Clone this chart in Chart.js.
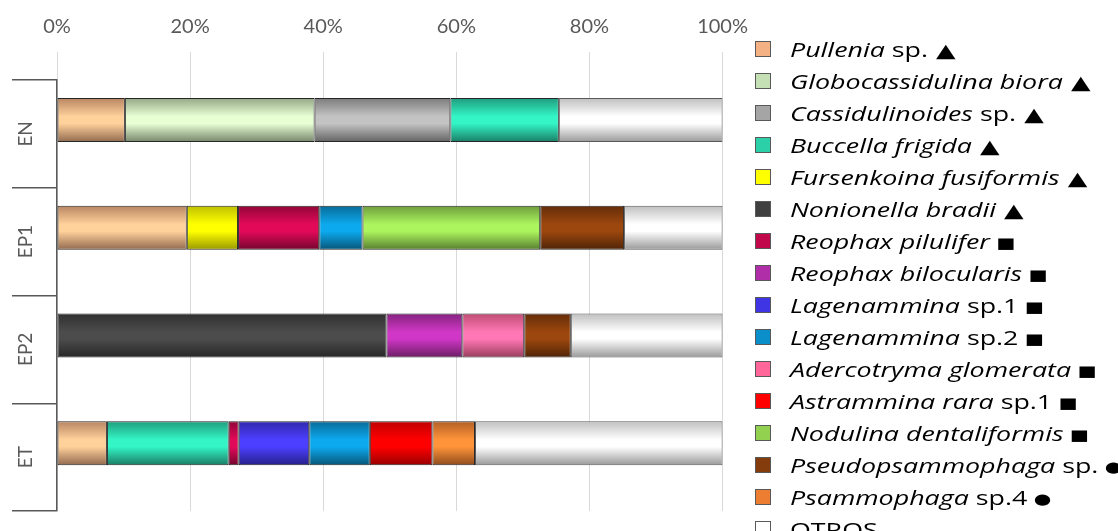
<!DOCTYPE html>
<html>
<head>
<meta charset="utf-8">
<script src="https://cdn.jsdelivr.net/npm/chart.js@4"></script>
<style>
  html, body { margin: 0; padding: 0; background: #fff; overflow: hidden; }
  body { width: 1118px; height: 531px; position: relative; font-family: Lato, sans-serif; }
  #chartBox { position: absolute; left: 0; top: 0; width: 761px; height: 531px; }
  #legend { position: absolute; left: 755px; top: 33px; margin: 0; padding: 0; list-style: none; }
  #legend li { height: 32px; display: flex; align-items: center; white-space: nowrap; color: #000; }
  #legend .box { width: 16px; height: 16px; box-sizing: border-box; border: 1px solid #595959; margin-right: 19px; flex: none; }
  #legend .txt { display: inline-block; font-family: "Open Sans", sans-serif; font-size: 20px; transform: scaleX(1.34); transform-origin: left center; }
  #legend .tri { font-family: "DejaVu Sans"; font-size: 19px; }
  #legend .sq, #legend .dot { font-family: "DejaVu Sans"; font-size: 15px; position: relative; top: -1px; }
</style>
</head>
<body>
<div id="chartBox"><canvas id="foramChart"></canvas></div>
<ul id="legend"></ul>
<script>
// estaciones (categorias)
const sites = ['EN', 'EP1', 'EP2', 'ET'];

// abundancia relativa (%) por especie y estacion
const pullenia         = [10.2, 19.5, null, 7.5];
const globocassidulina = [28.5, null, null, null];
const cassidulinoides  = [20.4, null, null, null];
const buccella         = [16.3, null, null, 18.3];
const fursenkoina      = [null, 7.7, null, null];
const nonionella       = [null, null, 49.5, null];
const reophaxPilulifer = [null, 12.2, null, 1.5];
const reophaxBilocul   = [null, null, 11.4, null];
const lagenammina1     = [null, null, null, 10.6];
const lagenammina2     = [null, 6.5, null, 9.1];
const adercotryma      = [null, null, 9.3, null];
const astrammina       = [null, null, null, 9.4];
const nodulina         = [null, 26.7, null, null];
const pseudopsammophaga= [null, 12.6, 7.0, null];
const psammophaga      = [null, null, null, 6.4];
const otros            = [24.6, 14.8, 22.8, 37.2];

const seriesValues = [pullenia, globocassidulina, cassidulinoides, buccella, fursenkoina,
  nonionella, reophaxPilulifer, reophaxBilocul, lagenammina1, lagenammina2, adercotryma,
  astrammina, nodulina, pseudopsammophaga, psammophaga, otros];

// nombres: parte en cursiva, parte normal, simbolo
const speciesItalic = ['Pullenia', 'Globocassidulina biora', 'Cassidulinoides', 'Buccella frigida',
  'Fursenkoina fusiformis', 'Nonionella bradii', 'Reophax pilulifer', 'Reophax bilocularis',
  'Lagenammina', 'Lagenammina', 'Adercotryma glomerata', 'Astrammina rara', 'Nodulina dentaliformis',
  'Pseudopsammophaga', 'Psammophaga', ''];
const speciesPlain = ['sp.', '', 'sp.', '', '', '', '', '', 'sp.1', 'sp.2', '', 'sp.1', '', 'sp.', 'sp.4', 'OTROS'];
const speciesMark = ['▲', '▲', '▲', '▲', '▲', '▲', '■', '■', '■', '■', '■', '■', '■', '●', '●', ''];

const speciesColors = ['#F4B183', '#C5E0B4', '#A5A5A5', '#2BD0A8', '#FFFF00', '#404040',
  '#C0084B', '#B02FA8', '#4035E5', '#0B8FCA', '#FF6699', '#FF0000', '#92D050', '#843C0C',
  '#ED7D31', '#FFFFFF'];

const xTicks = [0, 20, 40, 60, 80, 100];

// barras desplazadas hacia arriba dentro de cada categoria (como en el original)
const CAT_PCT = 0.516;
const BAR_PCT = 1.583;

function scaleColor(hex, f) {
  const n = parseInt(hex.slice(1), 16);
  const r = Math.min(255, Math.round(((n >> 16) & 255) * f));
  const g = Math.min(255, Math.round(((n >> 8) & 255) * f));
  const b = Math.min(255, Math.round((n & 255) * f));
  return `rgb(${r}, ${g}, ${b})`;
}

// relleno degradado tipo Excel
function barFill(ctx) {
  const base = speciesColors[ctx.datasetIndex];
  const yScale = ctx.chart.scales && ctx.chart.scales.y;
  if (!yScale || ctx.type !== 'data') return base;
  const p0 = yScale.getPixelForValue(0);
  const p1 = yScale.getPixelForValue(1);
  const pix = yScale.getPixelForValue(ctx.dataIndex);
  if (!isFinite(p0) || !isFinite(p1) || !isFinite(pix)) return base;
  const size = Math.abs(p1 - p0) * CAT_PCT;
  const chunk = size / 2;
  const c = pix - size / 2 + chunk / 2;
  const h = chunk * BAR_PCT;
  const g = ctx.chart.ctx.createLinearGradient(0, c - h / 2, 0, c + h / 2);
  g.addColorStop(0, scaleColor(base, 0.75));
  g.addColorStop(0.42, scaleColor(base, 1.18));
  g.addColorStop(0.58, scaleColor(base, 1.18));
  g.addColorStop(1, scaleColor(base, 0.6));
  return g;
}

const datasets = seriesValues.map((vals, i) => ({
  label: (speciesItalic[i] + ' ' + speciesPlain[i]).trim(),
  data: vals,
  stack: 'muestra',
  backgroundColor: barFill,
  borderColor: i === 15 ? '#595959' : '#262626',
  borderWidth: 1,
  borderSkipped: false
}));
// pila vacia: reserva el hueco inferior de cada categoria
datasets.push({ label: '', data: sites.map(() => null), stack: 'vacio' });

const chart = new Chart(document.getElementById('foramChart'), {
  type: 'bar',
  data: { labels: sites, datasets: datasets },
  options: {
    indexAxis: 'y',
    responsive: true,
    maintainAspectRatio: false,
    animation: false,
    categoryPercentage: CAT_PCT,
    barPercentage: BAR_PCT,
    layout: { padding: { top: 0, bottom: 20, right: 20, left: 0 } },
    plugins: { legend: { display: false }, tooltip: { enabled: false } },
    scales: {
      x: {
        position: 'top',
        stacked: true,
        min: 0,
        max: 100,
        afterBuildTicks: s => { s.ticks = xTicks.map(v => ({ value: v })); },
        ticks: {
          color: '#595959',
          font: { family: 'Lato', size: 20 },
          padding: 13,
          callback: v => v + '%'
        },
        grid: { color: '#d9d9d9', drawTicks: true, tickLength: 28 },
        border: { display: false },
        afterFit: s => { s.height = 80; }
      },
      y: {
        stacked: true,
        grid: { offset: true, drawOnChartArea: false, tickLength: 45, color: '#595959', lineWidth: 1.5 },
        border: { color: '#595959', width: 1.5 },
        ticks: {
          color: '#595959',
          font: { family: 'Lato', size: 19 },
          minRotation: 90,
          maxRotation: 90,
          crossAlign: 'center',
          padding: -31
        },
        afterFit: s => { s.width = 57; }
      }
    }
  }
});

// leyenda HTML (texto con cursiva mixta)
const legend = document.getElementById('legend');
speciesItalic.forEach((name, i) => {
  const li = document.createElement('li');
  const box = document.createElement('span');
  box.className = 'box';
  box.style.background = speciesColors[i];
  li.appendChild(box);
  const txt = document.createElement('span');
  txt.className = 'txt';
  if (name) {
    const it = document.createElement('i');
    it.textContent = name;
    txt.appendChild(it);
  }
  if (speciesPlain[i]) {
    txt.appendChild(document.createTextNode((name ? '\u00a0' : '') + speciesPlain[i]));
  }
  if (speciesMark[i]) {
    const m = document.createElement('span');
    m.className = speciesMark[i] === '▲' ? 'tri' : (speciesMark[i] === '■' ? 'sq' : 'dot');
    m.textContent = '\u00a0' + speciesMark[i];
    txt.appendChild(m);
  }
  li.appendChild(txt);
  legend.appendChild(li);
});
</script>
</body>
</html>
